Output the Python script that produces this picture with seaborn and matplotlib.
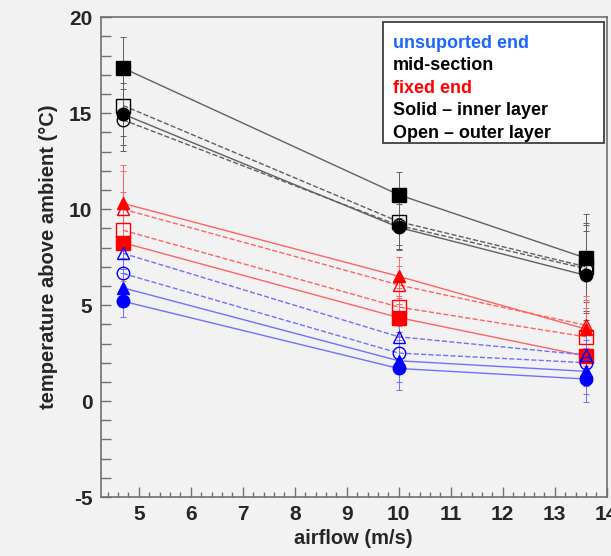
import numpy as np
import pandas as pd
import seaborn as sns
import matplotlib.pyplot as plt
from matplotlib.ticker import MultipleLocator

# airflow positions (m/s)
airflow = [4.7, 10.0, 13.6]

# series: temperature above ambient at each airflow, with error
mid_sq_solid = [17.35, 10.75, 7.45]
mid_sq_open = [15.4, 9.35, 7.0]
mid_ci_solid = [14.95, 9.05, 6.55]
mid_ci_open = [14.65, 9.15, 6.9]

fix_tr_solid = [10.3, 6.5, 3.75]
fix_tr_open = [10.0, 6.05, 3.95]
fix_sq_open = [8.9, 4.9, 3.35]
fix_sq_solid = [8.25, 4.35, 2.35]

uns_tr_open = [7.7, 3.35, 2.4]
uns_ci_open = [6.65, 2.5, 2.0]
uns_tr_solid = [5.9, 2.1, 1.55]
uns_ci_solid = [5.2, 1.7, 1.15]

err_mid = [1.6, 1.2, 2.3]
err_fix = [2.0, 1.0, 1.5]
err_uns = [0.8, 1.1, 1.2]

legend_lines = ['unsuported end', 'mid-section', 'fixed end',
                'Solid \u2013 inner layer', 'Open \u2013 outer layer']

sns.set_theme(style='ticks')
plt.rcParams['font.family'] = ['Liberation Sans', 'DejaVu Sans']
plt.rcParams['font.weight'] = 'bold'
plt.rcParams['axes.unicode_minus'] = False

BG = '#f2f2f2'
fig = plt.figure(figsize=(6.11, 5.56), dpi=100, facecolor=BG)
ax = fig.add_axes([0.165, 0.106, 0.828, 0.863], facecolor=BG)

# (values, errors, marker colour, line colour, marker, filled, linestyle)
series = [
    (mid_sq_solid, err_mid, 'black', '#606060', 's', True, '-'),
    (mid_sq_open, err_mid, 'black', '#606060', 's', False, '--'),
    (mid_ci_solid, err_mid, 'black', '#606060', 'o', True, '-'),
    (mid_ci_open, err_mid, 'black', '#606060', 'o', False, '--'),
    (fix_tr_solid, err_fix, 'red', '#ff6464', '^', True, '-'),
    (fix_tr_open, err_fix, 'red', '#ff6464', '^', False, '--'),
    (fix_sq_open, err_fix, 'red', '#ff6464', 's', False, '--'),
    (fix_sq_solid, err_fix, 'red', '#ff6464', 's', True, '-'),
    (uns_tr_open, err_uns, 'blue', '#7070ff', '^', False, '--'),
    (uns_ci_open, err_uns, 'blue', '#7070ff', 'o', False, '--'),
    (uns_tr_solid, err_uns, 'blue', '#7070ff', '^', True, '-'),
    (uns_ci_solid, err_uns, 'blue', '#7070ff', 'o', True, '-'),
]

for vals, errs, mcol, lcol, mk, filled, ls in series:
    df = pd.DataFrame({'airflow': airflow, 'temp': vals})
    sns.lineplot(data=df, x='airflow', y='temp', ax=ax, color=lcol,
                 linewidth=1.0, linestyle=ls, legend=False, zorder=2)
    ax.errorbar(airflow, vals, yerr=errs, fmt='none', ecolor=lcol,
                elinewidth=0.7, capsize=2, capthick=0.7, zorder=3)
    ms = 9.5 if mk == 's' else 9
    ax.plot(airflow, vals, linestyle='none', marker=mk, markersize=ms,
            markerfacecolor=mcol if filled else 'none',
            markeredgecolor=mcol, markeredgewidth=1.0, zorder=4)

ax.set_xlim(4.27, 14.0)
ax.set_ylim(-5, 20)
ax.xaxis.set_major_locator(MultipleLocator(1))
ax.xaxis.set_minor_locator(MultipleLocator(0.2))
ax.yaxis.set_major_locator(MultipleLocator(5))
ax.yaxis.set_minor_locator(MultipleLocator(1))
ax.tick_params(axis='both', which='major', direction='in', length=7,
               width=1, color='#707070', labelsize=15, pad=6)
ax.tick_params(axis='y', which='minor', direction='in', length=7,
               width=1, color='#707070')
ax.tick_params(axis='x', which='minor', direction='in', length=3.5,
               width=1, color='#707070')
for lab in ax.get_xticklabels() + ax.get_yticklabels():
    lab.set_fontweight('bold')
for sp in ax.spines.values():
    sp.set_visible(True)
    sp.set_color('#707070')
    sp.set_linewidth(1.2)

ax.set_xlabel('airflow (m/s)', fontsize=14.5, fontweight='bold', labelpad=3)
ax.set_ylabel('temperature above ambient (\u00b0C)', fontsize=14.5,
              fontweight='bold', labelpad=8)

# text-only legend box
box = plt.Rectangle((0.557, 0.737), 0.437, 0.253, transform=ax.transAxes,
                    facecolor='white', edgecolor='#303030', linewidth=1.2,
                    zorder=6)
ax.add_patch(box)
colors = ['#1a66ff', 'black', '#ff0000', 'black', 'black']
ys = [0.945, 0.899, 0.852, 0.805, 0.758]
for txt, col, yy in zip(legend_lines, colors, ys):
    ax.text(0.577, yy, txt, transform=ax.transAxes, color=col,
            fontsize=13, fontweight='bold', va='center', ha='left', zorder=7)

fig.savefig('out.png', dpi=100, facecolor=BG)
